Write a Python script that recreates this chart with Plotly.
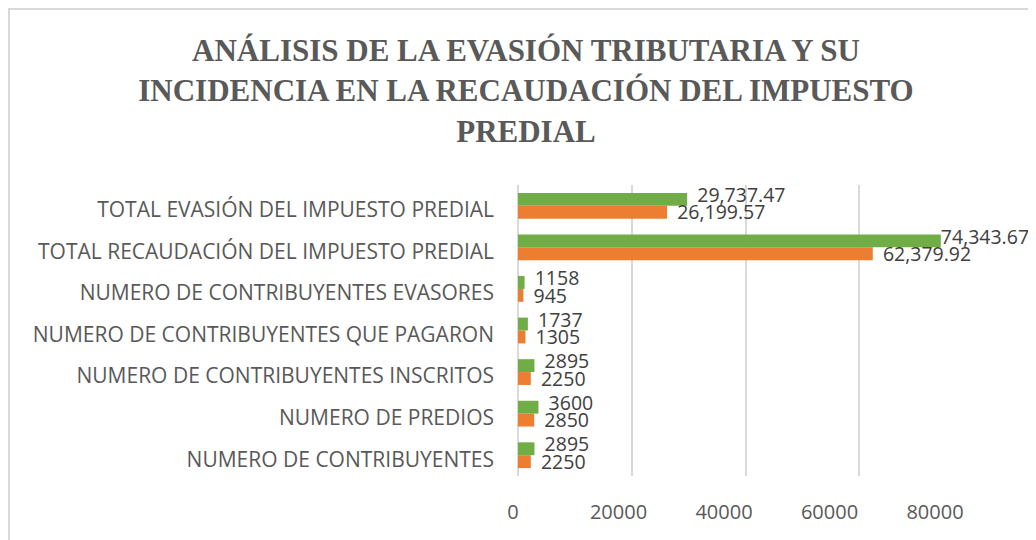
import plotly.graph_objects as go

categories = [
    "NUMERO DE CONTRIBUYENTES",
    "NUMERO DE PREDIOS",
    "NUMERO DE CONTRIBUYENTES INSCRITOS",
    "NUMERO DE CONTRIBUYENTES QUE PAGARON",
    "NUMERO DE CONTRIBUYENTES EVASORES",
    "TOTAL RECAUDACIÓN DEL IMPUESTO PREDIAL",
    "TOTAL EVASIÓN DEL IMPUESTO PREDIAL",
]
serie_naranja = [2250, 2850, 2250, 1305, 945, 62379.92, 26199.57]
serie_verde = [2895, 3600, 2895, 1737, 1158, 74343.67, 29737.47]
x_ticks = [0, 20000, 40000, 60000, 80000]


def fmt(v):
    return f"{v:,.2f}" if v != int(v) else f"{int(v)}"


def label(v):
    # labels are pushed off the bar end, except where they would leave the chart
    return (fmt(v) if v > 70000 else "  " + fmt(v))


GREEN = "#70AD47"
ORANGE = "#ED7D31"
TXT = "#404040"
GRID = "#D9D9D9"
LABEL_FONT = "Open Sans"
FS = 21
DFS = 19.5
W, H = 1036, 540
LABEL_SHIFT = 0.21  # label offset from category centre (category units)

fig = go.Figure()
fig.add_trace(go.Bar(
    y=categories, x=serie_naranja, orientation="h", name="Serie 1",
    marker=dict(color=ORANGE, line=dict(width=0)), textposition="none",
))
fig.add_trace(go.Bar(
    y=categories, x=serie_verde, orientation="h", name="Serie 2",
    marker=dict(color=GREEN, line=dict(width=0)), textposition="none",
))
# data labels (drawn on a numeric overlay of the category axis)
idx = list(range(len(categories)))
fig.add_trace(go.Scatter(
    x=serie_verde, y=[i + LABEL_SHIFT for i in idx], yaxis="y2",
    mode="text", text=[label(v) for v in serie_verde], textposition="middle right",
    textfont=dict(family=LABEL_FONT, size=DFS, color=TXT),
    cliponaxis=False, hoverinfo="skip", showlegend=False,
))
fig.add_trace(go.Scatter(
    x=serie_naranja, y=[i - LABEL_SHIFT for i in idx], yaxis="y2",
    mode="text", text=[label(v) for v in serie_naranja], textposition="middle right",
    textfont=dict(family=LABEL_FONT, size=DFS, color=TXT),
    cliponaxis=False, hoverinfo="skip", showlegend=False,
))
# invisible helper so the front (label) axis is rendered
fig.add_trace(go.Scatter(
    x=[0], y=[0], xaxis="x2", yaxis="y2", mode="markers",
    marker=dict(opacity=0), hoverinfo="skip", showlegend=False,
))

ydom = [(H - 468) / H, (H - 177) / H]
fig.update_layout(
    width=W, height=H, autosize=False,
    margin=dict(l=0, r=0, t=0, b=0, autoexpand=False),
    paper_bgcolor="white", plot_bgcolor="rgba(0,0,0,0)",
    showlegend=False,
    barmode="group", bargap=0.38, bargroupgap=0,
    title=dict(
        text="<b>ANÁLISIS DE LA EVASIÓN TRIBUTARIA Y SU<br>INCIDENCIA EN LA RECAUDACIÓN DEL IMPUESTO<br>PREDIAL</b>",
        x=0.5, xanchor="center", y=0.902, yanchor="top",
        font=dict(family="Liberation Serif", size=31, color="#595959"),
    ),
    xaxis=dict(
        domain=[510 / W, 965 / W], range=[0, 80000], automargin=False,
        tickvals=x_ticks, showticklabels=False,
        showgrid=True, gridcolor=GRID, gridwidth=2,
        zeroline=True, zerolinecolor=GRID, zerolinewidth=2,
        showline=False, ticks="",
    ),
    xaxis2=dict(
        domain=[505 / W, 927 / W], range=[0, 80000], automargin=False,
        tickvals=x_ticks, ticktext=[str(t) for t in x_ticks],
        anchor="free", position=(H - 490) / H, side="bottom",
        showgrid=False, zeroline=False, showline=False, ticks="",
        tickfont=dict(family=LABEL_FONT, size=20, color="#595959"),
    ),
    yaxis=dict(
        domain=ydom, automargin=False,
        categoryorder="array", categoryarray=categories,
        range=[-0.5, 6.5],
        showgrid=False, zeroline=False, showline=False, ticks="",
        ticklabelstandoff=23, ticklabelshift=4,
        tickfont=dict(family=LABEL_FONT, size=FS, color="#595959"),
    ),
    yaxis2=dict(
        domain=ydom, overlaying="y", anchor="x", range=[-0.5, 6.5],
        visible=False, automargin=False,
    ),
    shapes=[dict(
        type="rect", xref="paper", yref="paper",
        x0=1 / W, x1=1.1, y0=-0.1, y1=1 - 1 / H,
        line=dict(color=GRID, width=2), fillcolor="rgba(0,0,0,0)", layer="below",
    )],
)

fig.write_html("out.html")
